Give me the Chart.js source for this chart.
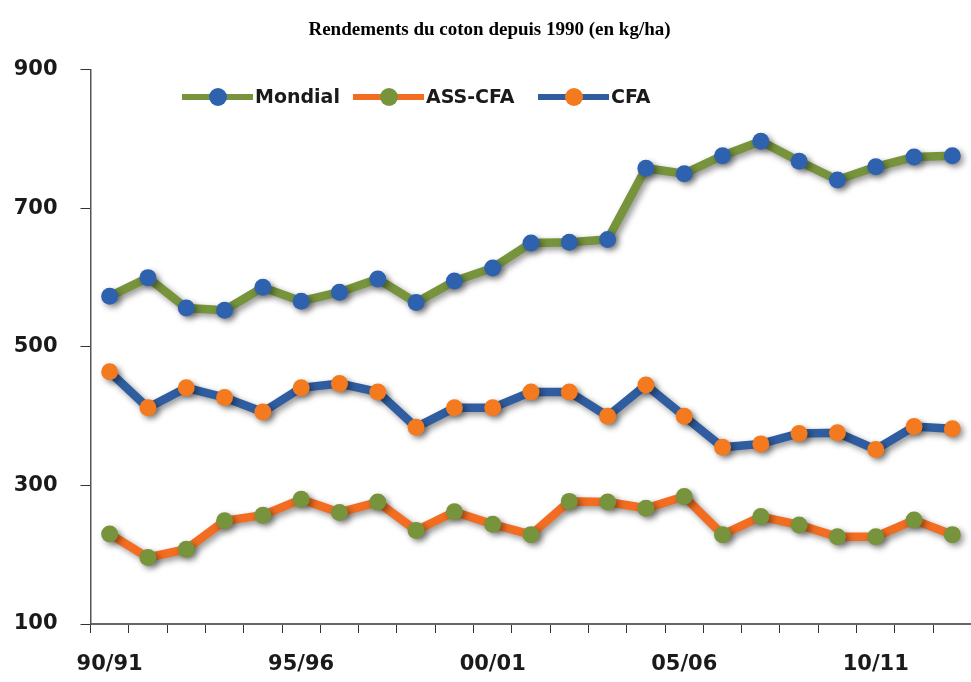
<!DOCTYPE html>
<html>
<head>
<meta charset="utf-8">
<script src="https://cdn.jsdelivr.net/npm/chart.js@4"></script>
<style>
  html, body { margin: 0; padding: 0; background: #fff; overflow: hidden; }
  canvas { display: block; }
</style>
</head>
<body>
<canvas id="c" width="980" height="682"></canvas>
<script>
const chartTitle = 'Rendements du coton depuis 1990 (en kg/ha)';
const categories = ['90/91','91/92','92/93','93/94','94/95','95/96','96/97','97/98','98/99','99/00',
                    '00/01','01/02','02/03','03/04','04/05','05/06','06/07','07/08','08/09','09/10',
                    '10/11','11/12','12/13'];
const tickLabels = ['90/91','95/96','00/01','05/06','10/11'];
const yTicks = [100, 300, 500, 700, 900];
const seriesNames = ['Mondial', 'ASS-CFA', 'CFA'];
const mondial = [573, 600, 556, 553, 586, 566, 579, 598, 564, 595, 614, 650, 651, 655, 758, 750, 776, 797, 768, 741, 760, 774, 776];
const assCfa  = [230, 196, 208, 249, 257, 280, 261, 276, 235, 262, 244, 229, 277, 276, 267, 284, 229, 255, 243, 226, 226, 250, 229];
const cfa     = [464, 412, 441, 427, 406, 441, 447, 435, 384, 412, 412, 435, 435, 400, 445, 400, 355, 360, 375, 376, 352, 385, 382];

const GREEN = '#77933C', BLUE = '#2F5D9F', ORANGE = '#F26D21', ORANGE_PT = '#F47A1F', BLUE_PT = '#2E62AE';

const shadowPlugin = {
  id: 'shadow',
  beforeDatasetsDraw(chart) {
    const ctx = chart.ctx;
    ctx.save();
    ctx.shadowColor = 'rgba(0,0,0,0.42)';
    ctx.shadowBlur = 6;
    ctx.shadowOffsetX = 3;
    ctx.shadowOffsetY = 3;
  },
  afterDatasetsDraw(chart) { chart.ctx.restore(); }
};

const legendPlugin = {
  id: 'customLegend',
  afterDraw(chart) {
    const ctx = chart.ctx;
    const starts = [182, 353, 538];
    const y = 97;
    ctx.save();
    ctx.font = 'bold 19px "DejaVu Sans"';
    ctx.textBaseline = 'middle';
    chart.data.datasets.forEach((ds, i) => {
      const x0 = starts[i];
      ctx.strokeStyle = ds.borderColor;
      ctx.lineWidth = 6;
      ctx.beginPath(); ctx.moveTo(x0, y); ctx.lineTo(x0 + 71, y); ctx.stroke();
      ctx.fillStyle = ds.pointBackgroundColor;
      ctx.beginPath(); ctx.arc(x0 + 36, y, 9, 0, Math.PI * 2); ctx.fill();
      ctx.fillStyle = '#1a1a1a';
      ctx.fillText(ds.label, x0 + 73, y + 1);
    });
    ctx.restore();
  }
};

new Chart(document.getElementById('c'), {
  type: 'line',
  data: {
    labels: categories,
    datasets: [
      { label: seriesNames[0], data: mondial, borderColor: GREEN, pointBackgroundColor: BLUE_PT },
      { label: seriesNames[1], data: assCfa, borderColor: ORANGE, pointBackgroundColor: GREEN },
      { label: seriesNames[2], data: cfa, borderColor: BLUE, pointBackgroundColor: ORANGE_PT }
    ].map(d => Object.assign(d, {
      borderWidth: 8.5, tension: 0, pointRadius: 8.5, pointBorderWidth: 0,
      pointBorderColor: d.pointBackgroundColor, fill: false, borderJoinStyle: 'miter'
    }))
  },
  options: {
    responsive: false,
    devicePixelRatio: 1,
    animation: false,
    layout: { padding: { left: 0, right: 1, top: 0, bottom: 0 } },
    plugins: {
      legend: { display: false },
      tooltip: { enabled: false },
      title: {
        display: true, text: chartTitle, color: '#000',
        font: { family: '"Liberation Serif"', size: 19, weight: 'bold' },
        padding: { top: 19, bottom: 28 }
      }
    },
    scales: {
      x: {
        offset: true,
        grid: { offset: true, drawOnChartArea: false, drawTicks: true, tickLength: 9, color: '#333', lineWidth: 1 },
        border: { display: true, color: '#666', width: 2 },
        ticks: {
          autoSkip: false, maxRotation: 0, minRotation: 0, padding: 19,
          color: '#1a1a1a', font: { family: '"DejaVu Sans"', size: 21, weight: 'bold' },
          callback: (v, i) => tickLabels.includes(categories[i]) ? categories[i] : ''
        },
        afterFit: s => { s.height = 58; }
      },
      y: {
        min: 100, max: 900,
        afterBuildTicks: s => { s.ticks = yTicks.map(v => ({ value: v })); },
        grid: { drawOnChartArea: false, drawTicks: true, tickLength: 10, color: '#333', lineWidth: 1 },
        border: { display: true, color: '#555', width: 1.5 },
        ticks: {
          padding: 23, color: '#1a1a1a',
          font: { family: '"DejaVu Sans"', size: 21, weight: 'bold' }
        },
        afterFit: s => { s.width = 90.5; }
      }
    }
  },
  plugins: [shadowPlugin, legendPlugin]
});
</script>
</body>
</html>
